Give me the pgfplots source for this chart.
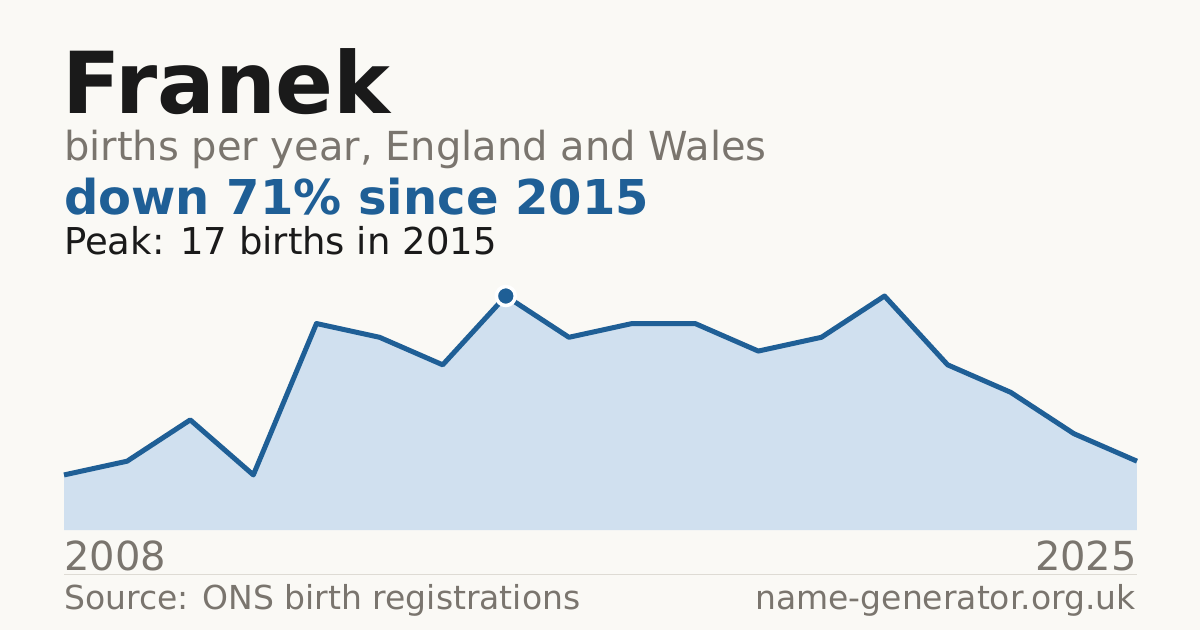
\documentclass[border=0pt]{standalone}
\usepackage{pgfplots}
\pgfplotsset{compat=1.18}
\usepackage{fontspec}
\setmainfont{DejaVu Sans}
\definecolor{bg}{HTML}{FAF9F5}
\definecolor{ink}{HTML}{1A1A1A}
\definecolor{muted}{HTML}{7A756E}
\definecolor{accent}{HTML}{1F5F96}
\definecolor{areafill}{HTML}{D0E0EF}
\definecolor{rule}{HTML}{DEDBD4}
\newcommand{\fs}[1]{\fontsize{#1}{#1}\selectfont}
\begin{document}
\begin{tikzpicture}[x=1pt,y=1pt]
\fill[bg] (0,0) rectangle (1200,-630);
\begin{axis}[
  at={(64pt,-530pt)}, anchor=south west,
  scale only axis, width=1073pt, height=234pt,
  xmin=2008, xmax=2025, ymin=0, ymax=17,
  axis lines=none, xtick=\empty, ytick=\empty,
  clip=false]
  \addplot[fill=areafill, draw=none] coordinates {
    (2008,4) (2009,5) (2010,8) (2011,4) (2012,15) (2013,14)
    (2014,12) (2015,17) (2016,14) (2017,15) (2018,15) (2019,13)
    (2020,14) (2021,17) (2022,12) (2023,10) (2024,7) (2025,5)
  } \closedcycle;
  \addplot[accent, line width=5pt, line join=round] coordinates {
    (2008,4) (2009,5) (2010,8) (2011,4) (2012,15) (2013,14)
    (2014,12) (2015,17) (2016,14) (2017,15) (2018,15) (2019,13)
    (2020,14) (2021,17) (2022,12) (2023,10) (2024,7) (2025,5)
  };
  \addplot[only marks, mark=*, mark size=9.5pt,
    mark options={fill=accent, draw=white, line width=3.5pt}]
    coordinates {(2015,17)};
\end{axis}
\node[anchor=base west, inner sep=0, text=ink] at (62,-113) {\fs{85.5}\bfseries Franek};
\node[anchor=base west, inner sep=0, text=muted] at (64,-160) {\fs{40}births per year, England and Wales};
\node[anchor=base west, inner sep=0, text=accent] at (64,-214) {\fs{48}\bfseries down 71\% since 2015};
\node[anchor=base west, inner sep=0, text=ink] at (64,-254) {\fs{37}Peak: 17 births in 2015};
\node[anchor=base west, inner sep=0, text=muted] at (64,-570) {\fs{40}2008};
\node[anchor=base east, inner sep=0, text=muted] at (1137,-570) {\fs{40}2025};
\draw[rule, line width=1pt] (64,-574.5) -- (1137,-574.5);
\node[anchor=base west, inner sep=0, text=muted] at (64,-609) {\fs{33}Source: ONS birth registrations};
\node[anchor=base east, inner sep=0, text=muted] at (1136,-609) {\fs{33}name-generator.org.uk};
\end{tikzpicture}
\end{document}
